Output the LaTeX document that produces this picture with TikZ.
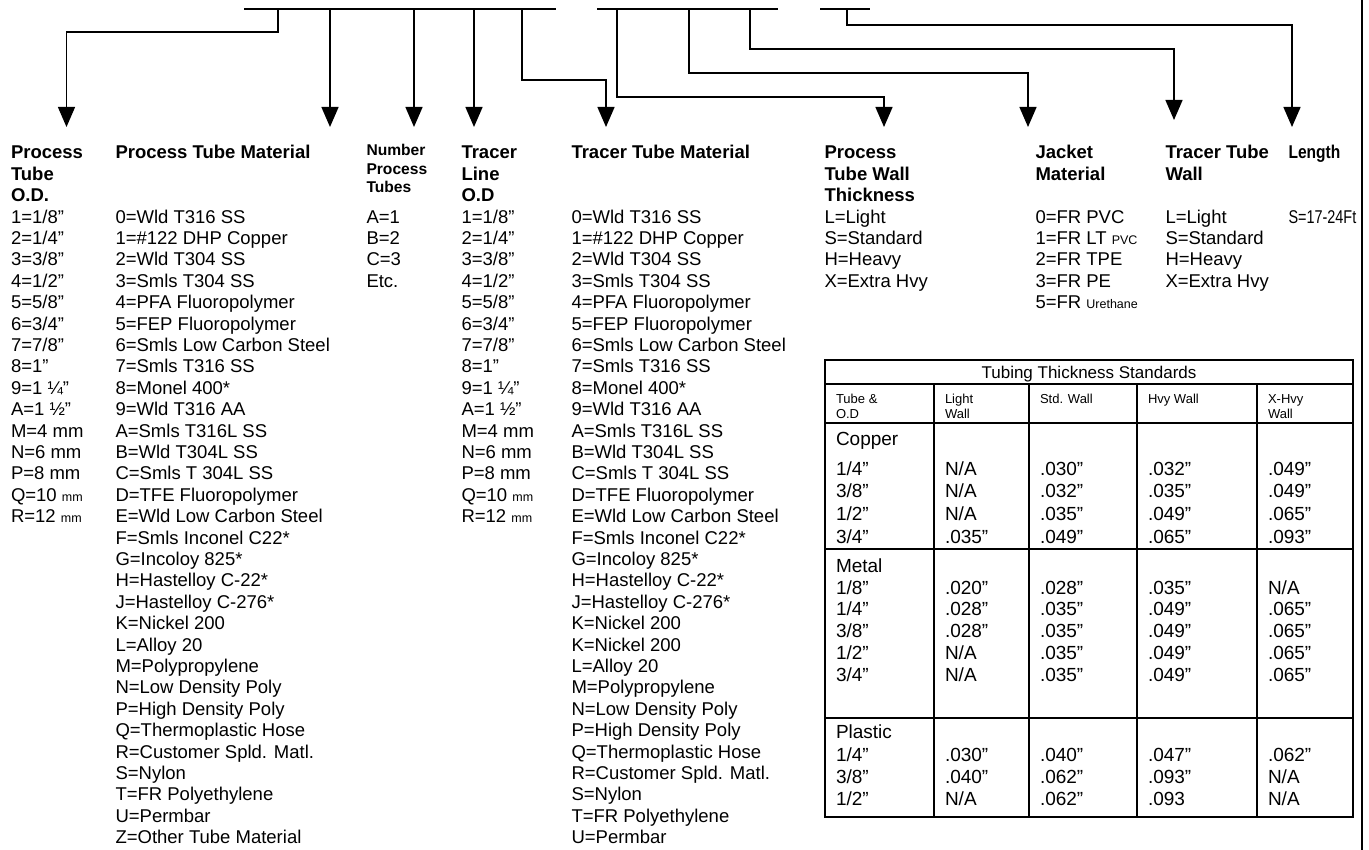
\documentclass[tikz,border=0pt]{standalone}
\usepackage{fontspec}
\setmainfont{Liberation Sans}
\usetikzlibrary{arrows.meta}
\newcommand{\lst}[1]{\begin{tabular}[t]{@{}l@{}}#1\end{tabular}}
\newcommand{\smtxt}[1]{{\fontsize{12.5}{12.5}\selectfont #1}}
\newcommand{\trow}[7]{%
  \node[tv] (#1a) at (836,#2) {#3};
  \node[tv] (#1b) at (945,#2) {#4};
  \node[tv] (#1c) at (1040,#2) {#5};
  \node[tv] (#1d) at (1148,#2) {#6};
  \node[tv] (#1e) at (1268,#2) {#7};
}
\begin{document}
\begin{tikzpicture}[x=1pt,y=-1pt,
  body/.style={anchor=base west,inner sep=0pt,outer sep=0pt,font=\fontsize{18.5}{21.4}\selectfont},
  head/.style={anchor=base west,inner sep=0pt,outer sep=0pt,font=\fontsize{18.5}{21.4}\selectfont\bfseries},
  smhead/.style={anchor=base west,inner sep=0pt,outer sep=0pt,font=\fontsize{15.6}{18.4}\selectfont\bfseries},
  tv/.style={anchor=base west,inner sep=0pt,outer sep=0pt,font=\fontsize{19}{22}\selectfont},
  th/.style={anchor=base west,inner sep=0pt,outer sep=0pt,font=\fontsize{13}{14}\selectfont},
  ttl/.style={anchor=base,inner sep=0pt,outer sep=0pt,font=\fontsize{17}{20}\selectfont},
  bar/.style={line width=2.4pt},
  conn/.style={line width=1.4pt,-{Triangle[width=17pt,length=20pt]}},
  gridline/.style={line width=1.8pt},
]
\useasboundingbox (0,0) rectangle (1369,850);

% ---------- top code bars ----------
\coordinate (b1l) at (244,9);  \coordinate (b1r) at (556,9);
\coordinate (b2l) at (597,9);  \coordinate (b2r) at (778,9);
\coordinate (b3l) at (820,9);  \coordinate (b3r) at (870,9);
\draw[bar] (b1l) -- (b1r);
\draw[bar] (b2l) -- (b2r);
\draw[bar] (b3l) -- (b3r);

% starts on bars
\coordinate (sA) at (278,9);
\coordinate (sB) at (330,9);
\coordinate (sC) at (414,9);
\coordinate (sD) at (474,9);
\coordinate (sE) at (522,9);
\coordinate (sF) at (617,9);
\coordinate (sG) at (689,9);
\coordinate (sH) at (750,9);
\coordinate (sI) at (847,9);
% arrow tips
\coordinate (tA) at (66.5,127);
\coordinate (tB) at (330,127);
\coordinate (tC) at (414,127);
\coordinate (tD) at (474,127);
\coordinate (tE) at (606,127);
\coordinate (tF) at (884,127);
\coordinate (tG) at (1028,127);
\coordinate (tH) at (1174,120);
\coordinate (tI) at (1292,127);

\draw[conn] (sA) -- ++(0,23) -| (tA);
\draw[conn] (sB) -- (tB);
\draw[conn] (sC) -- (tC);
\draw[conn] (sD) -- (tD);
\draw[conn] (sE) -- ++(0,71) -| (tE);
\draw[conn] (sF) -- ++(0,88) -| (tF);
\draw[conn] (sG) -- ++(0,64) -| (tG);
\draw[conn] (sH) -- ++(0,40) -| (tH);
\draw[conn] (sI) -- ++(0,16) -| (tI);

% ---------- right page rule ----------
\coordinate (rt) at (1361.5,0); \coordinate (rb) at (1361.5,850);
\draw[line width=2pt] (rt) -- (rb);

% ---------- column headings ----------
\node[head] (h1) at (11,159) {\lst{Process\\Tube\\O.D.}};
\node[head] (h2) at (115.5,159) {Process Tube Material};
\node[smhead] (h3) at (366.5,156) {\lst{Number\\Process\\Tubes}};
\node[head] (h4) at (461.5,159) {\lst{Tracer\\Line\\O.D}};
\node[head] (h5) at (571.5,159) {Tracer Tube Material};
\node[head] (h6) at (824.5,159) {\lst{Process\\Tube Wall\\Thickness}};
\node[head] (h7) at (1035.5,159) {\lst{Jacket\\Material}};
\node[head] (h8) at (1165.5,159) {\lst{Tracer Tube\\Wall}};
\node[head] (h9) at (1288.5,159) {\scalebox{0.84}[1]{Length}};

% ---------- value lists (row 3 baseline = 223.2) ----------
\node[body] (v1) at (11,223.2) {\lst{1=1/8”\\2=1/4”\\3=3/8”\\4=1/2”\\5=5/8”\\6=3/4”\\7=7/8”\\8=1”\\9=1 ¼”\\A=1 ½”\\M=4 mm\\N=6 mm\\P=8 mm\\Q=10 \smtxt{mm}\\R=12 \smtxt{mm}}};
\node[body] (v2) at (115.5,223.2) {\lst{0=Wld T316 SS\\1=\#122 DHP Copper\\2=Wld T304 SS\\3=Smls T304 SS\\4=PFA Fluoropolymer\\5=FEP Fluoropolymer\\6=Smls Low Carbon Steel\\7=Smls T316 SS\\8=Monel 400*\\9=Wld T316 AA\\A=Smls T316L SS\\B=Wld T304L SS\\C=Smls T 304L SS\\D=TFE Fluoropolymer\\E=Wld Low Carbon Steel\\F=Smls Inconel C22*\\G=Incoloy 825*\\H=Hastelloy C-22*\\J=Hastelloy C-276*\\K=Nickel 200\\L=Alloy 20\\M=Polypropylene\\N=Low Density Poly\\P=High Density Poly\\Q=Thermoplastic Hose\\R=Customer Spld. Matl.\\S=Nylon\\T=FR Polyethylene\\U=Permbar\\Z=Other Tube Material}};
\node[body] (v3) at (366.5,223.2) {\lst{A=1\\B=2\\C=3\\Etc.}};
\node[body] (v4) at (461.5,223.2) {\lst{1=1/8”\\2=1/4”\\3=3/8”\\4=1/2”\\5=5/8”\\6=3/4”\\7=7/8”\\8=1”\\9=1 ¼”\\A=1 ½”\\M=4 mm\\N=6 mm\\P=8 mm\\Q=10 \smtxt{mm}\\R=12 \smtxt{mm}}};
\node[body] (v5) at (571.5,223.2) {\lst{0=Wld T316 SS\\1=\#122 DHP Copper\\2=Wld T304 SS\\3=Smls T304 SS\\4=PFA Fluoropolymer\\5=FEP Fluoropolymer\\6=Smls Low Carbon Steel\\7=Smls T316 SS\\8=Monel 400*\\9=Wld T316 AA\\A=Smls T316L SS\\B=Wld T304L SS\\C=Smls T 304L SS\\D=TFE Fluoropolymer\\E=Wld Low Carbon Steel\\F=Smls Inconel C22*\\G=Incoloy 825*\\H=Hastelloy C-22*\\J=Hastelloy C-276*\\K=Nickel 200\\K=Nickel 200\\L=Alloy 20\\M=Polypropylene\\N=Low Density Poly\\P=High Density Poly\\Q=Thermoplastic Hose\\R=Customer Spld. Matl.\\S=Nylon\\T=FR Polyethylene\\U=Permbar}};
\node[body] (v6) at (824.5,223.2) {\lst{L=Light\\S=Standard\\H=Heavy\\X=Extra Hvy}};
\node[body] (v7) at (1035.5,223.2) {\lst{0=FR PVC\\1=FR LT \smtxt{PVC}\\2=FR TPE\\3=FR PE\\5=FR \smtxt{Urethane}}};
\node[body] (v8) at (1165.5,223.2) {\lst{L=Light\\S=Standard\\H=Heavy\\X=Extra Hvy}};
\node[body] (v9) at (1288.5,223.2) {\scalebox{0.78}[1]{S=17-24Ft}};

% ---------- thickness table ----------
\draw[gridline] (825,360) rectangle (1353,817);
\draw[gridline] (825,384) -- (1353,384);
\draw[gridline] (825,423) -- (1353,423);
\draw[gridline] (825,549) -- (1353,549);
\draw[gridline] (825,718) -- (1353,718);
\foreach \cx in {934,1029,1137,1257} \draw[gridline] (\cx,384) -- (\cx,817);

\node[ttl] (title) at (1089,379) {Tubing Thickness Standards};
\node[th] (hA) at (836,404) {\lst{Tube \&\\O.D}};
\node[th] (hB) at (945,404) {\lst{Light\\Wall}};
\node[th] (hC) at (1040,404) {Std. Wall};
\node[th] (hD) at (1148,404) {Hvy Wall};
\node[th] (hE) at (1268,404) {\lst{X-Hvy\\Wall}};

\node[tv] (cu) at (836,445) {Copper};
\trow{ca}{475}{1/4”}{N/A}{.030”}{.032”}{.049”}
\trow{cb}{497.7}{3/8”}{N/A}{.032”}{.035”}{.049”}
\trow{cc}{520.4}{1/2”}{N/A}{.035”}{.049”}{.065”}
\trow{cd}{543}{3/4”}{.035”}{.049”}{.065”}{.093”}

\node[tv] (me) at (836,572) {Metal};
\trow{ma}{594}{1/8”}{.020”}{.028”}{.035”}{N/A}
\trow{mb}{615.8}{1/4”}{.028”}{.035”}{.049”}{.065”}
\trow{mc}{637.5}{3/8”}{.028”}{.035”}{.049”}{.065”}
\trow{md}{659.3}{1/2”}{N/A}{.035”}{.049”}{.065”}
\trow{mf}{681}{3/4”}{N/A}{.035”}{.049”}{.065”}

\node[tv] (pl) at (836,738) {Plastic};
\trow{pa}{761}{1/4”}{.030”}{.040”}{.047”}{.062”}
\trow{pb}{783}{3/8”}{.040”}{.062”}{.093”}{N/A}
\trow{pc}{805}{1/2”}{N/A}{.062”}{.093}{N/A}
\end{tikzpicture}
\end{document}
